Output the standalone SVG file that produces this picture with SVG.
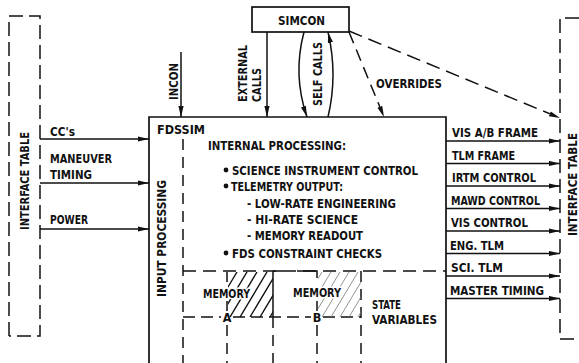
<svg xmlns="http://www.w3.org/2000/svg" width="579" height="363" viewBox="0 0 579 363">
<style>
.t{font-family:"DejaVu Sans Condensed","DejaVu Sans",sans-serif;font-stretch:condensed;font-size:12.5px;font-weight:bold;fill:#111}
.r{font-size:13px}
.rs{font-size:11.5px}
.ln{stroke:#111;stroke-width:1.5;fill:none}
.bx{stroke:#111;stroke-width:1.7;fill:none}
.d1{stroke-dasharray:14 6}
.d2{stroke-dasharray:11 7}
.d3{stroke-dasharray:13 7}
.hA{stroke:#111;stroke-width:1.4}
.hB{stroke:#777;stroke-width:0.8}
.wb{stroke:#fff;stroke-width:3;paint-order:stroke}
</style>
<defs>
<marker id="ah" markerWidth="11" markerHeight="6" refX="11" refY="3" orient="auto" markerUnits="userSpaceOnUse"><path d="M0,0.4 L11,3 L0,5.6 Z" fill="#111"/></marker>
<clipPath id="cA"><rect x="228" y="272" width="45" height="45"/></clipPath>
<clipPath id="cB"><rect x="318" y="272" width="43" height="45"/></clipPath>
</defs>
<rect width="579" height="363" fill="#fff"/>

<g id="left-interface-table">
<path class="ln d1" d="M9,336 V16 H40 V336 H9"/>
<text class="t r" transform="translate(29,230) rotate(-90)" textLength="98" lengthAdjust="spacingAndGlyphs">INTERFACE TABLE</text>
</g>

<g id="right-interface-table">
<path class="ln d1" d="M579,18 H560 V339 H579"/>
<text class="t rs" transform="translate(576.5,236) rotate(-90)" textLength="103" lengthAdjust="spacingAndGlyphs">INTERFACE TABLE</text>
</g>

<g id="simcon">
<rect class="bx" x="252" y="7" width="97" height="25"/>
<text class="t" x="278" y="24.5" textLength="47" lengthAdjust="spacingAndGlyphs">SIMCON</text>
</g>

<g id="fdssim">
<path class="bx" d="M149,364 V117 H446 V364"/>
<text class="t" x="157" y="134" textLength="48" lengthAdjust="spacingAndGlyphs">FDSSIM</text>
<text class="t r" transform="translate(166,297) rotate(-90)" textLength="117" lengthAdjust="spacingAndGlyphs">INPUT PROCESSING</text>
<text class="t" x="208" y="150" textLength="138" lengthAdjust="spacingAndGlyphs">INTERNAL PROCESSING:</text>
<circle cx="226" cy="170" r="2.4" fill="#111"/>
<text class="t" x="232" y="174.5" textLength="186" lengthAdjust="spacingAndGlyphs">SCIENCE INSTRUMENT CONTROL</text>
<circle cx="226" cy="186" r="2.4" fill="#111"/>
<text class="t" x="231" y="190.5" textLength="112" lengthAdjust="spacingAndGlyphs">TELEMETRY OUTPUT:</text>
<text class="t" x="247" y="207.5" textLength="149" lengthAdjust="spacingAndGlyphs">- LOW-RATE ENGINEERING</text>
<text class="t" x="247" y="223.5" textLength="111" lengthAdjust="spacingAndGlyphs">- HI-RATE SCIENCE</text>
<text class="t" x="247" y="239.5" textLength="116" lengthAdjust="spacingAndGlyphs">- MEMORY READOUT</text>
<circle cx="226" cy="253" r="2.4" fill="#111"/>
<text class="t" x="232" y="257.5" textLength="150" lengthAdjust="spacingAndGlyphs">FDS CONSTRAINT CHECKS</text>

<path class="ln d2" d="M183,139 V364"/>
<path class="ln d3" d="M183,271 H446"/>
<path class="ln" d="M183,317 H221 M233,317 H311 M323,317 H361" stroke-dasharray="12 6"/>
<path class="ln" d="M227,272 V282 M227,301 V311"/>
<path class="ln d2" d="M227,325 V364"/>
<path class="ln" d="M273,271 V317 M273,271 H283"/>
<path class="ln d2" d="M273,317 V364"/>
<path class="ln" d="M297,271 H317 V278 M317,301 V311"/>
<path class="ln d2" d="M317,325 V364"/>
<path class="ln d2" d="M361,271 V364"/>

<g id="memory-a-hatch" clip-path="url(#cA)">
<path class="hA" d="M200,317 L227,272 M210,317 L237,272 M220,317 L247,272 M230,317 L257,272 M240,317 L267,272 M250,317 L277,272 M260,317 L287,272 M270,317 L297,272"/>
</g>
<g id="memory-b-hatch" clip-path="url(#cB)">
<path class="hB" d="M295,317 L322,272 M304,317 L331,272 M313,317 L340,272 M322,317 L349,272 M331,317 L358,272 M340,317 L367,272 M349,317 L376,272 M358,317 L385,272"/>
</g>

<text class="t wb" x="203" y="297.5" textLength="47" lengthAdjust="spacingAndGlyphs">MEMORY</text>
<text class="t" x="227" y="321.5" text-anchor="middle">A</text>
<text class="t wb" x="293" y="296.5" textLength="48" lengthAdjust="spacingAndGlyphs">MEMORY</text>
<text class="t" x="317" y="321.5" text-anchor="middle">B</text>
<text class="t" x="372" y="308.5" textLength="29" lengthAdjust="spacingAndGlyphs">STATE</text>
<text class="t" x="372" y="323.5" textLength="65" lengthAdjust="spacingAndGlyphs">VARIABLES</text>
</g>

<g id="connectors">
<path class="ln" d="M40,139 H149" marker-end="url(#ah)"/>
<text class="t" x="50" y="136" textLength="25" lengthAdjust="spacingAndGlyphs">CC's</text>
<path class="ln" d="M40,183 H149" marker-end="url(#ah)"/>
<text class="t" x="50" y="163" textLength="62" lengthAdjust="spacingAndGlyphs">MANEUVER</text>
<text class="t" x="50" y="179" textLength="42" lengthAdjust="spacingAndGlyphs">TIMING</text>
<path class="ln" d="M40,229 H149" marker-end="url(#ah)"/>
<text class="t" x="50" y="224" textLength="38" lengthAdjust="spacingAndGlyphs">POWER</text>

<path class="ln" d="M181,52 V117" marker-end="url(#ah)"/>
<text class="t" transform="translate(178,100) rotate(-90)" textLength="37" lengthAdjust="spacingAndGlyphs">INCON</text>

<path class="ln" d="M267,32 V117" marker-end="url(#ah)"/>
<text class="t" transform="translate(247,102) rotate(-90)" textLength="57" lengthAdjust="spacingAndGlyphs">EXTERNAL</text>
<text class="t" transform="translate(261,102) rotate(-90)" textLength="34" lengthAdjust="spacingAndGlyphs">CALLS</text>

<path class="ln" d="M304,32 Q292.5,75 307,117" marker-end="url(#ah)"/>
<path class="ln" d="M328,117 Q338,75 328,32" marker-end="url(#ah)"/>
<text class="t" transform="translate(322,106) rotate(-90)" textLength="64" lengthAdjust="spacingAndGlyphs">SELF CALLS</text>

<path class="ln" d="M349,32 L384,117" stroke-dasharray="12 7" marker-end="url(#ah)"/>
<text class="t" x="376" y="87.5" textLength="66" lengthAdjust="spacingAndGlyphs">OVERRIDES</text>
<path class="ln" d="M349,31 L560,118" stroke-dasharray="14 7" marker-end="url(#ah)"/>

<path class="ln" d="M446,141 H560" marker-end="url(#ah)"/>
<text class="t" x="452" y="137" textLength="86" lengthAdjust="spacingAndGlyphs">VIS A/B FRAME</text>
<path class="ln" d="M446,163.5 H560" marker-end="url(#ah)"/>
<text class="t" x="452" y="159.5" textLength="63" lengthAdjust="spacingAndGlyphs">TLM FRAME</text>
<path class="ln" d="M446,186 H560" marker-end="url(#ah)"/>
<text class="t" x="452" y="182" textLength="84" lengthAdjust="spacingAndGlyphs">IRTM CONTROL</text>
<path class="ln" d="M446,208.5 H560" marker-end="url(#ah)"/>
<text class="t" x="451" y="204.5" textLength="89" lengthAdjust="spacingAndGlyphs">MAWD CONTROL</text>
<path class="ln" d="M446,231 H560" marker-end="url(#ah)"/>
<text class="t" x="451" y="227" textLength="77" lengthAdjust="spacingAndGlyphs">VIS CONTROL</text>
<path class="ln" d="M446,253.5 H560" marker-end="url(#ah)"/>
<text class="t" x="450" y="249.5" textLength="54" lengthAdjust="spacingAndGlyphs">ENG. TLM</text>
<path class="ln" d="M446,276 H560" marker-end="url(#ah)"/>
<text class="t" x="451" y="272" textLength="52" lengthAdjust="spacingAndGlyphs">SCI. TLM</text>
<path class="ln" d="M446,298.5 H560" marker-end="url(#ah)"/>
<text class="t" x="450" y="294.5" textLength="94" lengthAdjust="spacingAndGlyphs">MASTER TIMING</text>
</g>
</svg>
